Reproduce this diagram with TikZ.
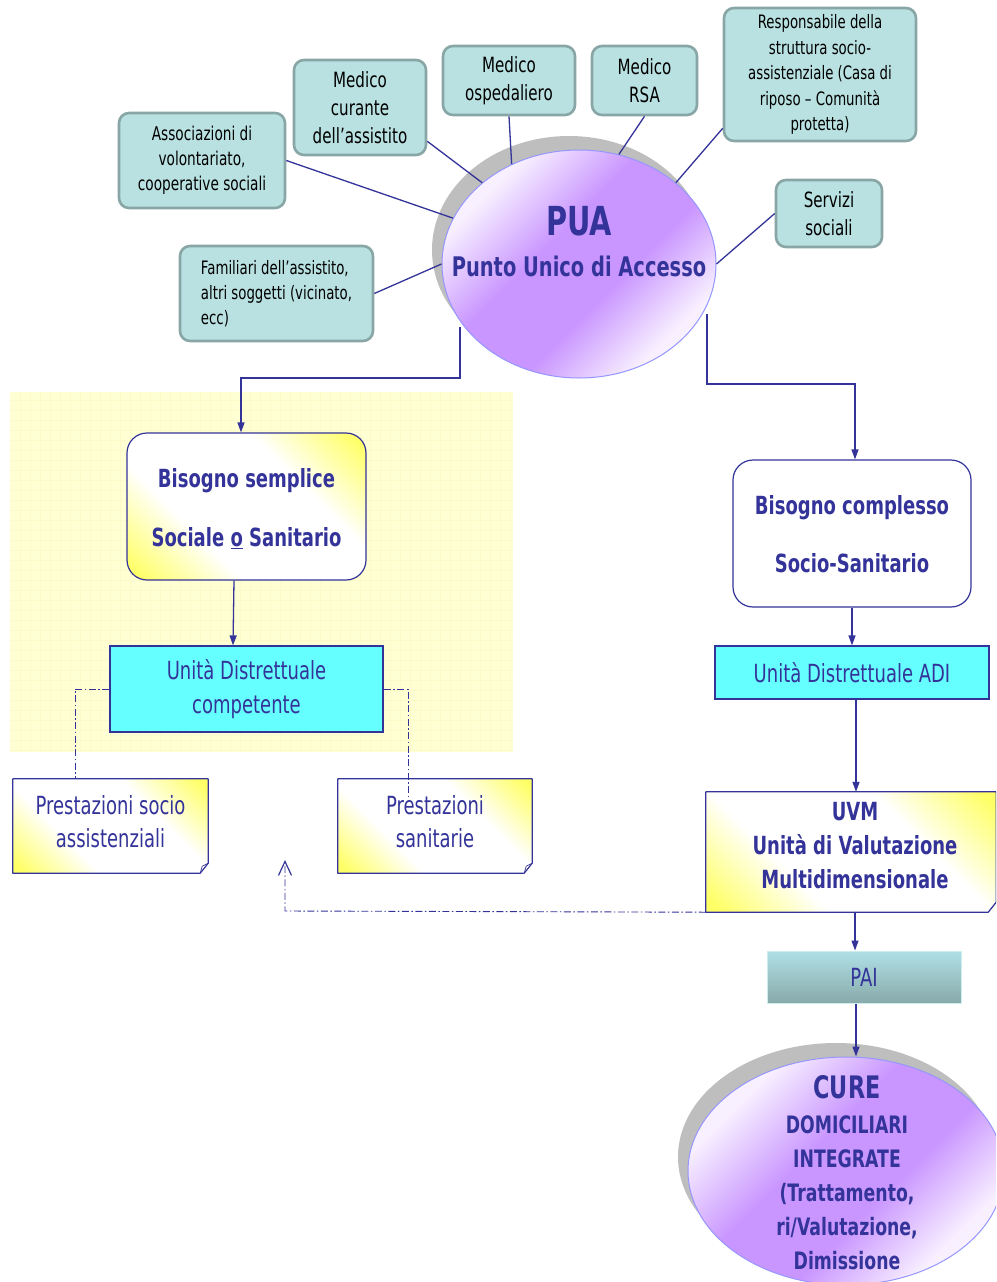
\documentclass[tikz,border=0pt]{standalone}
\usepackage{fontspec}
\setmainfont{DejaVu Sans}[FakeStretch=0.72]
\usetikzlibrary{shapes.geometric,arrows.meta,calc}
\definecolor{dblue}{RGB}{51,51,153}
\definecolor{teal1}{RGB}{185,225,225}
\definecolor{teal2}{RGB}{136,166,166}
\definecolor{cyanb}{RGB}{102,255,255}
\definecolor{yel}{RGB}{255,255,102}
\definecolor{ybg}{RGB}{255,255,212}
\definecolor{ygrid}{RGB}{252,250,200}
\definecolor{pur}{RGB}{201,150,255}
\definecolor{purl}{RGB}{248,240,255}
\definecolor{purb}{RGB}{150,150,255}
\definecolor{shad}{RGB}{190,190,190}
\definecolor{pai1}{RGB}{176,224,230}
\definecolor{pai2}{RGB}{136,170,170}
\definecolor{paib}{RGB}{205,238,238}
\pgfdeclareverticalshading{puashade}{100bp}{color(0bp)=(purl); color(27bp)=(purl); color(42bp)=(pur); color(57bp)=(pur); color(73bp)=(purl); color(100bp)=(purl)}
\pgfdeclareverticalshading{yelshade}{100bp}{color(0bp)=(yel); color(17bp)=(yel); color(36bp)=(white); color(64bp)=(white); color(83bp)=(yel); color(100bp)=(yel)}
\begin{document}
\begin{tikzpicture}[x=1pt,y=-1pt,
  tealbox/.style={draw=teal2, line width=2.6pt, fill=teal1, rounded corners=10pt, align=center, inner sep=0pt, text=black},
  fs/.style 2 args={font=\fontsize{#1}{#2}\selectfont},
  bfs/.style 2 args={font=\bfseries\fontsize{#1}{#2}\selectfont},
  conn/.style={draw=dblue, line width=1.3pt},
  arr/.style={conn, -{Triangle[length=10pt,width=7pt]}},
  dd/.style={draw=dblue, line width=0.9pt, dash pattern=on 7pt off 2.5pt on 1.5pt off 2.5pt},
  yshade/.style={shading=yelshade, shading angle=-45},
  pshade/.style={shading=puashade, shading angle=45},
  bluetext/.style={text=dblue, align=center, inner sep=0pt},
  cyanbox/.style={draw=dblue, line width=1.2pt, fill=cyanb, inner sep=0pt, text=dblue, align=center},
  needbox/.style={draw=dblue, line width=1.2pt, rounded corners=20pt, inner sep=0pt, text=dblue, align=center},
  foldbox/.style={inner sep=0pt, text=dblue, align=center},
  foldline/.style={draw=dblue, line width=1.2pt, line join=round},
]
\useasboundingbox (0,0) rectangle (996,1282);
\clip (0,0) rectangle (996,1282);
\fill[white] (0,0) rectangle (996,1282);

% yellow background region
\fill[ybg] (10,392) rectangle (513,752);
\foreach \gx in {20,30,...,510} \draw[ygrid, line width=0.5pt] (\gx,392) -- (\gx,752);
\foreach \gy in {400,410,...,750} \draw[ygrid, line width=0.5pt] (10,\gy) -- (513,\gy);

% PUA ellipse with shadow
\node[ellipse, fill=shad, minimum width=274pt, minimum height=228pt, inner sep=0pt] (puash) at (569,250) {};
\node[ellipse, pshade, draw=purb, line width=1pt, minimum width=274pt, minimum height=228pt, inner sep=0pt] (pua) at (579,264) {};
\node[bluetext, bfs={40}{44}] (puat1) at (579,221) {PUA};
\node[bluetext, bfs={27}{32}] (puat2) at (579,266) {Punto Unico di Accesso};

% teal boxes
\node[tealbox, fs={19}{25}, minimum width=166pt, minimum height=95pt] (assoc) at (202,160.5) {Associazioni di\\volontariato,\\cooperative sociali};
\node[tealbox, fs={21}{28}, minimum width=132pt, minimum height=95pt] (curante) at (360,107.5) {Medico\\curante\\dell’assistito};
\node[tealbox, fs={21}{28}, minimum width=132pt, minimum height=69pt] (osped) at (509,80.5) {Medico\\ospedaliero};
\node[tealbox, fs={21}{28}, minimum width=105pt, minimum height=69pt] (rsa) at (644.5,80.5) {Medico\\RSA};
\node[tealbox, fs={18.5}{25.5}, minimum width=192pt, minimum height=133pt] (resp) at (820,74.5) {Responsabile della\\struttura socio-\\assistenziale (Casa di\\riposo – Comunità\\protetta)};
\node[tealbox, fs={21}{28}, minimum width=106pt, minimum height=67pt] (serv) at (829,213.5) {Servizi\\sociali};
\node[tealbox, fs={18.5}{25}, minimum width=193pt, minimum height=95pt, align=left] (fam) at (276.5,293.5) {Familiari dell’assistito,\\altri soggetti (vicinato,\\ecc)};

% connectors to PUA
\draw[conn] (assoc.east) -- (pua.160);
\draw[conn] ($(curante.south east)+(0,-15)$) -- (pua.140);
\draw[conn] (osped.south) -- (pua.124);
\draw[conn] (rsa.south) -- (pua.70);
\draw[conn] ($(resp.south west)+(0,-14)$) -- (pua.40);
\draw[conn] (serv.west) -- (pua.0);
\draw[conn] (fam.east) -- (pua.180);

% need boxes
\node[needbox, yshade, minimum width=239pt, minimum height=147pt] (bs) at (246.5,506.5) {};
\node[bluetext, bfs={25}{30}] (bst1) at (246.5,481) {Bisogno semplice};
\node[bluetext, bfs={25}{30}] (bst2) at (246.5,538) {Sociale \underline{o} Sanitario};
\node[needbox, fill=white, minimum width=238pt, minimum height=147pt] (bc) at (852,533.5) {};
\node[bluetext, bfs={25}{30}] (bct1) at (852,508) {Bisogno complesso};
\node[bluetext, bfs={25}{30}] (bct2) at (852,563) {Socio-Sanitario};

% PUA to need boxes
\coordinate (pl) at (460,327);
\coordinate (pr) at (707,314);
\draw[arr] (pl) -- (460,378) -- (241,378) -- ($(bs.north)+(-5.5,0)$);
\draw[arr] (pr) -- (707,384) -- (855,384) -- ($(bc.north)+(3,0)$);

% district units
\node[cyanbox, fs={25}{34}, minimum width=273pt, minimum height=86pt] (udc) at (246.5,689) {Unità Distrettuale\\competente};
\node[cyanbox, fs={25}{34}, minimum width=274pt, minimum height=53pt] (uadi) at (852,672.5) {Unità Distrettuale ADI};
\draw[arr] ($(bs.south)+(-12.5,0)$) -- ($(udc.north)+(-13.5,0)$);
\draw[arr] (bc.south) -- (uadi.north);

% prestazioni boxes (folded corner)
\node[foldbox, yshade, minimum width=195pt, minimum height=94pt] (pso) at (110.5,826) {};
\node[foldbox, yshade, minimum width=194pt, minimum height=94pt] (psa) at (435,826) {};
\foreach \n in {pso,psa}{
  \draw[foldline] (\n.north west) -- (\n.north east) -- ($(\n.south east)+(0,-10)$) -- ($(\n.south east)+(-8,0)$) -- (\n.south west) -- cycle;
  \draw[draw=dblue, line width=0.7pt] ($(\n.south east)+(0,-10)$) -- ($(\n.south east)+(-6,-7)$) -- ($(\n.south east)+(-8,0)$);
}
\node[bluetext, fs={25}{33}] (psot) at (110.5,822) {Prestazioni socio\\assistenziali};
\node[bluetext, fs={25}{33}] (psat) at (435,822) {Prestazioni\\sanitarie};

% dash-dot links
\draw[dd] (udc.west) -| ($(pso.north)+(-35.5,0)$);
\draw[dd] (udc.east) -| ($(psa.north)+(-27,20)$);

% UVM
\node[foldbox, yshade, minimum width=290pt, minimum height=120pt] (uvm) at (851,852) {};
\draw[foldline] (uvm.north west) -- (uvm.north east) -- ($(uvm.south east)+(0,-10)$) -- ($(uvm.south east)+(-8,0)$) -- (uvm.south west) -- cycle;
\node[bluetext, bfs={25}{34}] (uvmt) at (855,846) {UVM\\Unità di Valutazione\\Multidimensionale};
\draw[arr] ($(uadi.south)+(4,0)$) -- ($(uvm.north)+(5,0)$);

% return dash-dot arrow
\coordinate (ret) at (285,860);
\draw[dd, -{Straight Barb[length=14pt,width=13pt,line width=1.2pt]}] (uvm.south west) -- (285,911) -- (ret);

% PAI
\node[draw=paib, line width=1pt, top color=pai1, bottom color=pai2, inner sep=0pt, text=dblue, fs={25}{30}, minimum width=194pt, minimum height=52pt] (pai) at (864,977) {PAI};
\draw[arr] ($(uvm.south)+(4,0)$) -- ($(pai.north)+(-9,0)$);

% CURE ellipse
\node[ellipse, fill=shad, minimum width=316pt, minimum height=228pt, inner sep=0pt] (curesh) at (836,1157) {};
\node[ellipse, pshade, draw=purb, line width=1pt, minimum width=316pt, minimum height=228pt, inner sep=0pt] (cure) at (846,1171) {};
\draw[arr] ($(pai.south)+(-8,0)$) -- (cure.north -| 856,0);
\node[bluetext, bfs={31}{36}] (curet1) at (847,1087) {CURE};
\node[bluetext, bfs={24}{34}] (curet2) at (847,1193) {DOMICILIARI\\INTEGRATE\\(Trattamento,\\ri/Valutazione,\\Dimissione};
\end{tikzpicture}
\end{document}
